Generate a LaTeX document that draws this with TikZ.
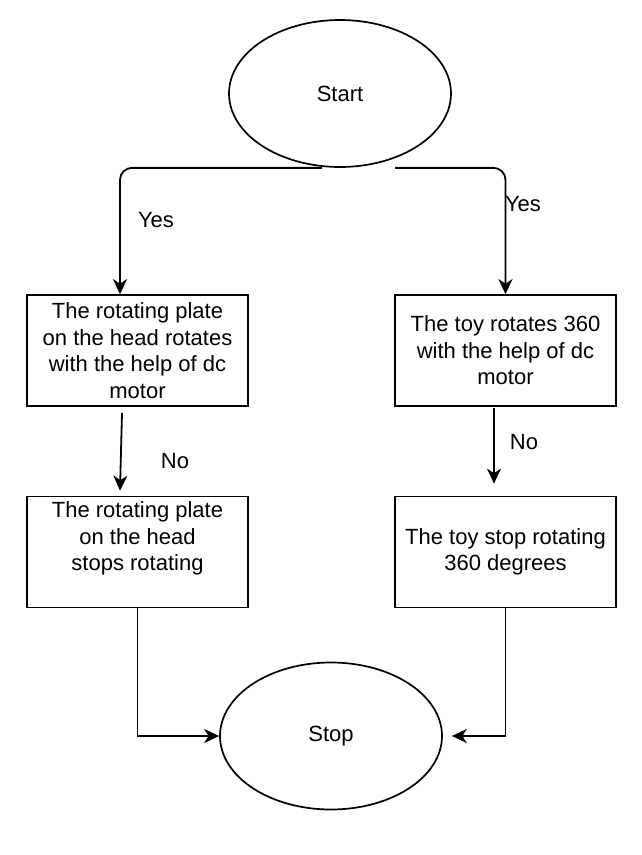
\documentclass[tikz,border=0pt]{standalone}
\usepackage{fontspec}
\setmainfont{Liberation Sans}
\usetikzlibrary{shapes.geometric,arrows.meta,calc}
\begin{document}
\begin{tikzpicture}[x=1pt,y=-1pt,
  every node/.style={font=\fontsize{22}{26.5}\selectfont},
  term/.style={draw,ellipse,line width=1.7pt,minimum width=222pt,minimum height=147pt,inner sep=0pt},
  proc/.style={draw,rectangle,line width=1.7pt,minimum width=221pt,minimum height=111pt,inner sep=0pt,align=center},
  conn/.style={line width=1.8pt,-{Stealth[length=15pt,width=14pt,inset=4.5pt]}},
  lbl/.style={inner sep=0pt}]
\useasboundingbox (0,0) rectangle (641,855);
\node[term] (start) at (340,93.5) {Start};
\node[term] (stop) at (331,736) {Stop};
\node[proc] (b1) at (137.5,350.5) {The rotating plate\\on the head rotates\\ with the help of dc\\motor};
\node[proc] (b2) at (505.5,350.5) {The toy rotates 360\\with the help of dc\\motor};
\node[proc,label={[yshift=13.5pt,align=center,inner sep=0pt,font=\fontsize{22}{26.5}\selectfont]center:The rotating plate\\on the head\\stops rotating}] (b3) at (137.5,552) {};
\node[proc] (b4) at (505.5,552) {The toy stop rotating\\360 degrees};
\draw[conn,rounded corners=12pt] ($(start.south)+(-18,0)$) -- ($(start.south)+(-220,0)$) -- ([xshift=-17.5pt]b1.north);
\draw[conn,rounded corners=12pt] ($(start.south)+(55,0)$) -- ($(start.south)+(165.5,0)$) -- (b2.north);
\draw[conn] ($(b1.south)+(-15.5,6)$) -- ($(b3.north)+(-17.5,-5)$);
\draw[conn] ($(b2.south)+(-11.5,1)$) -- ($(b4.north)+(-11.5,-12)$);
\draw[conn] (b3.south) |- (stop.west);
\draw[conn] (b4.south) |- ($(stop.east)+(9,0)$);
\node[lbl] (y1) at (156,220) {Yes};
\node[lbl] (y2) at (523,204) {Yes};
\node[lbl] (n1) at (175,461) {No};
\node[lbl] (n2) at (524,442) {No};
\end{tikzpicture}
\end{document}
